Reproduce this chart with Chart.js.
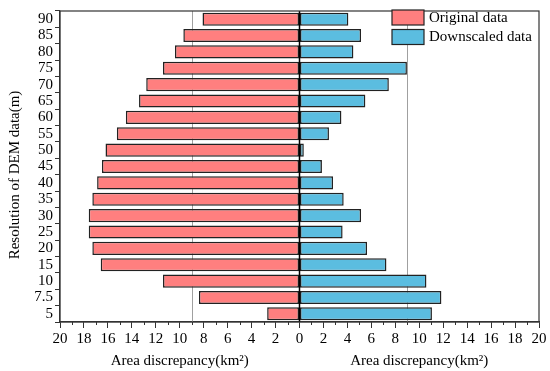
<!DOCTYPE html>
<html>
<head>
<meta charset="utf-8">
<script src="https://cdn.jsdelivr.net/npm/chart.js@4"></script>
<style>
  html, body { margin: 0; padding: 0; background: #fff; }
  #wrap { width: 550px; height: 371px; }
</style>
</head>
<body>
<div id="wrap"><canvas id="myChart" width="550" height="371"></canvas></div>
<script>
// risoluzioni DEM (asse y, dal basso verso l'alto)
var risoluzioni = ['5', '7.5', '10', '15', '20', '25', '30', '35', '40', '45', '50', '55', '60', '65', '70', '75', '80', '85', '90'];
// discrepanza area, dati originali (lato sinistro)
var dati_originali = [2.7, 8.4, 11.4, 16.6, 17.3, 17.6, 17.6, 17.3, 16.9, 16.5, 16.2, 15.25, 14.5, 13.4, 12.8, 11.4, 10.4, 9.7, 8.1];
// discrepanza area, dati downscaled (lato destro)
var dati_downscaled = [11.06, 11.85, 10.6, 7.26, 5.64, 3.6, 5.14, 3.69, 2.8, 1.87, 0.36, 2.46, 3.5, 5.5, 7.46, 8.97, 4.5, 5.14, 4.08];
var etichette_serie = ['Original data', 'Downscaled data'];
var linee_riferimento = [-9, 9];
var titolo_x = 'Area discrepancy(km\u00B2)';
var titolo_y = 'Resolution of DEM data(m)';

var FONT = '"Liberation Serif", "Times New Roman", serif';
var colori = ['#ff7f7f', '#5bbde0'];

// valori originali negativi, cosi vanno a sinistra
var originali_neg = dati_originali.map(function(v) { return -v; });

var decorazioni = {
    id: 'decorazioni',
    beforeDatasetsDraw: function(chart) {
        var ctx = chart.ctx;
        var area = chart.chartArea;
        var sx = chart.scales.x;
        ctx.save();
        // linee grigie di riferimento
        ctx.strokeStyle = '#a0a0a0';
        ctx.lineWidth = 1;
        linee_riferimento.forEach(function(v) {
            var px = Math.round(sx.getPixelForValue(v)) + 0.5;
            ctx.beginPath();
            ctx.moveTo(px, area.top);
            ctx.lineTo(px, area.bottom);
            ctx.stroke();
        });
        ctx.restore();
    },
    afterDraw: function(chart) {
        var ctx = chart.ctx;
        var area = chart.chartArea;
        var sx = chart.scales.x;
        ctx.save();
        // linea dello zero
        ctx.strokeStyle = '#000';
        ctx.lineWidth = 1.5;
        var p0 = sx.getPixelForValue(0);
        ctx.beginPath();
        ctx.moveTo(p0, area.top);
        ctx.lineTo(p0, area.bottom);
        ctx.stroke();
        // cornice
        ctx.strokeStyle = '#333';
        ctx.lineWidth = 1.2;
        ctx.strokeRect(area.left, area.top, area.right - area.left, area.bottom - area.top);
        // tacche minori
        ctx.lineWidth = 1;
        for (var v = -19; v <= 19; v += 2) {
            var px = Math.round(sx.getPixelForValue(v)) + 0.5;
            ctx.beginPath();
            ctx.moveTo(px, area.bottom);
            ctx.lineTo(px, area.bottom + 3);
            ctx.stroke();
        }
        // titoli asse x (due meta)
        ctx.fillStyle = '#000';
        ctx.font = '15px ' + FONT;
        ctx.textAlign = 'center';
        ctx.textBaseline = 'alphabetic';
        ctx.fillText(titolo_x, sx.getPixelForValue(-10), 365);
        ctx.fillText(titolo_x, sx.getPixelForValue(10), 365);
        // titolo asse y, ruotato
        ctx.save();
        ctx.translate(15, 175);
        ctx.rotate(-Math.PI / 2);
        ctx.textBaseline = 'middle';
        ctx.fillText(titolo_y, 0, 0);
        ctx.restore();
        // legenda dentro il grafico
        ctx.textAlign = 'left';
        ctx.textBaseline = 'middle';
        chart.data.datasets.forEach(function(ds, i) {
            var y = 10 + i * 19.5;
            ctx.fillStyle = ds.backgroundColor;
            ctx.fillRect(392, y, 32, 15);
            ctx.strokeStyle = '#222';
            ctx.lineWidth = 1.2;
            ctx.strokeRect(392, y, 32, 15);
            ctx.fillStyle = '#000';
            ctx.fillText(ds.label, 429, y + 8);
        });
        ctx.restore();
    }
};

var ctx = document.getElementById('myChart');
var myChart = new Chart(ctx, {
    type: 'bar',
    data: {
        labels: risoluzioni,
        datasets: [{
            label: etichette_serie[0],
            data: originali_neg,
            backgroundColor: colori[0],
            borderColor: '#222',
            borderWidth: 1.5,
            borderSkipped: false,
            barPercentage: 0.8,
            categoryPercentage: 1
        }, {
            label: etichette_serie[1],
            data: dati_downscaled,
            backgroundColor: colori[1],
            borderColor: '#222',
            borderWidth: 1.5,
            borderSkipped: false,
            barPercentage: 0.8,
            categoryPercentage: 1
        }]
    },
    options: {
        indexAxis: 'y',
        responsive: false,
        animation: false,
        layout: { padding: { top: 7, right: 11, left: 0, bottom: 0 } },
        plugins: {
            legend: { display: false },
            tooltip: { enabled: false }
        },
        scales: {
            x: {
                stacked: true,
                min: -20,
                max: 20,
                afterFit: function(scale) { scale.height = 49; },
                border: { color: '#333', width: 1.2 },
                grid: { drawOnChartArea: false, tickLength: 6, color: '#333' },
                ticks: {
                    stepSize: 2,
                    autoSkip: false,
                    maxRotation: 0,
                    padding: 2,
                    color: '#000',
                    font: { family: FONT, size: 15 },
                    callback: function(value) { return Math.abs(value); }
                }
            },
            y: {
                stacked: true,
                reverse: true,
                afterFit: function(scale) { scale.width = 60; },
                border: { color: '#333', width: 1.2 },
                grid: { drawOnChartArea: false, tickLength: 5, color: '#333' },
                ticks: {
                    autoSkip: false,
                    padding: 2,
                    color: '#000',
                    font: { family: FONT, size: 15 }
                }
            }
        }
    },
    plugins: [decorazioni]
});
</script>
</body>
</html>
